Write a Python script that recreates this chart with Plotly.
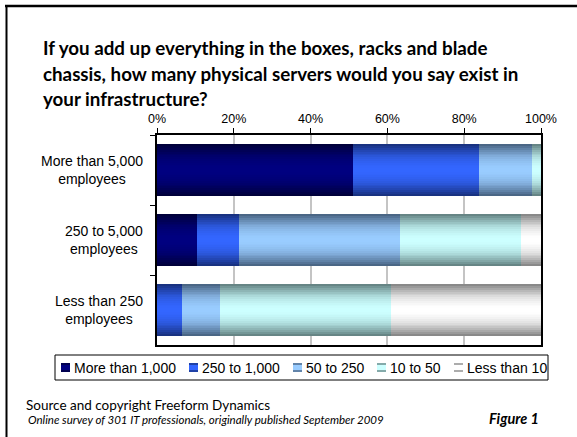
import plotly.graph_objects as go

# ---- data -------------------------------------------------------------
categories = ["More than 5,000 employees", "250 to 5,000 employees", "Less than 250 employees"]
category_labels = ["More than 5,000<br>employees", "250 to 5,000<br>employees", "Less than 250<br>employees"]
series_names = ["More than 1,000", "250 to 1,000", "50 to 250", "10 to 50", "Less than 10"]

more_than_1000 = [51.0, 10.3, 0.0]
from_250_to_1000 = [32.8, 11.0, 6.5]
from_50_to_250 = [13.8, 41.9, 9.9]
from_10_to_50 = [2.4, 31.5, 44.5]
less_than_10 = [0.0, 5.3, 39.1]

tick_values = [0, 20, 40, 60, 80, 100]
tick_labels = ["0%", "20%", "40%", "60%", "80%", "100%"]

title_lines = [
    "If you add up everything in the boxes, racks and blade",
    "chassis, how many physical servers would you say exist in",
    "your infrastructure?",
]
source_text = "Source and copyright Freeform Dynamics"
survey_text = "Online survey of 301 IT professionals, originally published September 2009"
figure_text = "Figure 1"

series_values = [more_than_1000, from_250_to_1000, from_50_to_250, from_10_to_50, less_than_10]

# ---- styling ----------------------------------------------------------
W, H = 577, 437
PLOT_L, PLOT_R, PLOT_T, PLOT_B = 157, 541, 135, 345
BAR_WIDTH = 0.73
N_LAYERS = 14
SANS = "Liberation Sans"
CAL = "Lato"

# (centre colour, edge colour) of each series' shaded fill
fills = [
    ((0x00, 0x00, 0x80), (0x00, 0x00, 0x36)),
    ((0x33, 0x66, 0xFF), (0x16, 0x2E, 0x78)),
    ((0x99, 0xCC, 0xFF), (0x44, 0x5E, 0x7C)),
    ((0xCC, 0xFF, 0xFF), (0x5E, 0x7C, 0x7C)),
    ((0xFF, 0xFF, 0xFF), (0x80, 0x80, 0x80)),
]


def mix(edge, centre, t):
    return "rgb(%d,%d,%d)" % tuple(round(e + (c - e) * t) for e, c in zip(edge, centre))


def shade(t):
    # fast rise from the edge, broad light band in the middle
    return 1 - (1 - t) ** 2


def px_x(px):
    return (px - PLOT_L) / (PLOT_R - PLOT_L)


def px_y(py):
    return (PLOT_B - py) / (PLOT_B - PLOT_T)


fig = go.Figure()

# stacked horizontal bars, each drawn as nested layers to give a shaded fill
left = [0.0] * len(categories)
for vals, (centre, edge), name in zip(series_values, fills, series_names):
    for k in range(N_LAYERS):
        t = shade((k + 0.5) / N_LAYERS)
        fig.add_trace(go.Bar(
            x=vals, y=categories, base=left, orientation="h",
            width=BAR_WIDTH * (1 - k / N_LAYERS),
            marker=dict(color=mix(edge, centre, t), line=dict(width=0)),
            name=name, showlegend=False, hoverinfo="skip" if k else "x+name",
        ))
    left = [a + b for a, b in zip(left, vals)]

annotations = []
shapes = []

# category labels, centred lines
for cat, lab in zip(categories, category_labels):
    annotations.append(dict(
        x=px_x(145), xref="paper", xanchor="right", y=cat, yref="y",
        text=lab, showarrow=False, align="center",
        font=dict(family=SANS, size=14, color="#000000"),
    ))

# title
title_y = [48, 74, 99]
for line, ty in zip(title_lines, title_y):
    annotations.append(dict(
        x=px_x(41), xref="paper", xanchor="left", y=px_y(ty), yref="paper", yanchor="middle",
        text=line, showarrow=False,
        font=dict(family=CAL, size=18.75, color="#000000", weight="bold"),
    ))

# footer
annotations += [
    dict(x=px_x(24), xref="paper", xanchor="left", y=px_y(405), yref="paper", yanchor="middle",
         text=source_text, showarrow=False, font=dict(family=CAL, size=13.5, color="#000000")),
    dict(x=px_x(26), xref="paper", xanchor="left", y=px_y(419), yref="paper", yanchor="middle",
         text=survey_text, showarrow=False,
         font=dict(family=CAL, size=11.5, color="#000000", style="italic")),
    dict(x=px_x(541), xref="paper", xanchor="right", y=px_y(418), yref="paper", yanchor="middle",
         text=figure_text, showarrow=False,
         font=dict(family=CAL, size=14.5, color="#000000", style="italic", weight="bold")),
]

# legend: boxed row of shaded swatches
LEG_L, LEG_R, LEG_T, LEG_B = 55, 548, 355, 380
leg_swatch_x = [61, 189, 293, 377, 454]
leg_mid = (LEG_T + LEG_B) / 2
shapes.append(dict(type="rect", xref="paper", yref="paper",
                   x0=px_x(LEG_L), x1=px_x(LEG_R), y0=px_y(LEG_B), y1=px_y(LEG_T),
                   line=dict(color="#000000", width=1), fillcolor="rgba(0,0,0,0)"))
for sx, (centre, edge), name in zip(leg_swatch_x, fills, series_names):
    shapes.append(dict(type="rect", xref="paper", yref="paper",
                       x0=px_x(sx), x1=px_x(sx + 9), y0=px_y(leg_mid + 4.5), y1=px_y(leg_mid - 4.5),
                       line=dict(width=0), fillcolor=mix(edge, centre, 0.35)))
    shapes.append(dict(type="rect", xref="paper", yref="paper",
                       x0=px_x(sx), x1=px_x(sx + 9), y0=px_y(leg_mid + 2.5), y1=px_y(leg_mid - 2.5),
                       line=dict(width=0), fillcolor=mix(edge, centre, 1.0)))
    annotations.append(dict(
        x=px_x(sx + 11), xref="paper", xanchor="left", y=px_y(leg_mid), yref="paper", yanchor="middle",
        text=name, showarrow=False, font=dict(family=SANS, size=14, color="#000000"),
    ))

# outer frame (top and left edges)
shapes += [
    dict(type="line", xref="paper", yref="paper", x0=px_x(5), x1=px_x(577), y0=px_y(6), y1=px_y(6),
         line=dict(color="#000000", width=2.5)),
    dict(type="line", xref="paper", yref="paper", x0=px_x(6.5), x1=px_x(6.5), y0=px_y(5), y1=px_y(437),
         line=dict(color="#000000", width=2)),
]

fig.update_layout(
    width=W, height=H,
    margin=dict(l=PLOT_L, r=W - PLOT_R, t=PLOT_T, b=H - PLOT_B, pad=0),
    paper_bgcolor="#FFFFFF", plot_bgcolor="#FFFFFF",
    barmode="overlay", bargap=0,
    showlegend=False,
    xaxis=dict(
        side="top", range=[0, 100], tickvals=tick_values, ticktext=tick_labels,
        showline=True, linecolor="#000000", linewidth=1.5, mirror=True,
        ticks="outside", ticklen=5, tickcolor="#000000", tickwidth=1,
        showgrid=True, gridcolor="#C4C4C4", gridwidth=1.5, zeroline=False,
        tickfont=dict(family=SANS, size=12.5, color="#000000"), fixedrange=True,
    ),
    yaxis=dict(
        type="category", categoryorder="array", categoryarray=categories,
        range=[2.5, -0.5], showticklabels=False,
        showline=True, linecolor="#000000", linewidth=1.5, mirror=True,
        ticks="outside", ticklen=5, tickcolor="#000000", tickson="boundaries",
        showgrid=False, zeroline=False, fixedrange=True,
    ),
    annotations=annotations, shapes=shapes,
)

fig.write_html("out.html")
